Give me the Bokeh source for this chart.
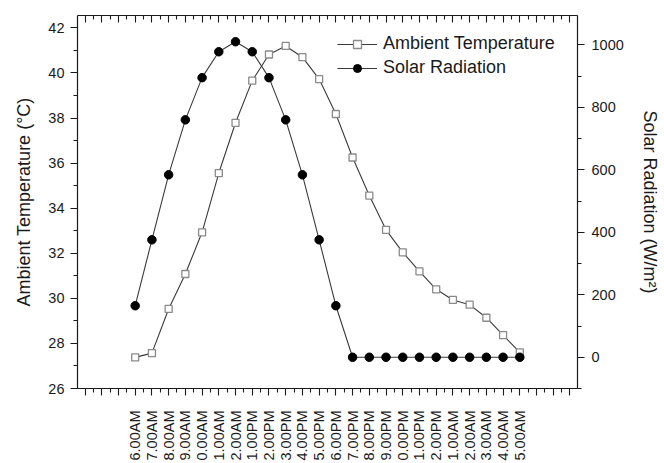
import math

from bokeh.plotting import figure
from bokeh.models import Range1d, LinearAxis, FixedTicker, Legend, LegendItem
from bokeh.embed import file_html
from bokeh.resources import INLINE

# Hourly readings over one day, starting at 6 AM
hour_labels = ["6.00AM", "7.00AM", "8.00AM", "9.00AM", "0.00AM", "1.00AM",
               "2.00AM", "1.00PM", "2.00PM", "3.00PM", "4.00PM", "5.00PM",
               "6.00PM", "7.00PM", "8.00PM", "9.00PM", "0.00PM", "1.00PM",
               "2.00PM", "1.00AM", "2.00AM", "3.00AM", "4.00AM", "5.00AM"]
ambient_temp = [27.38, 27.57, 29.53, 31.08, 32.93, 35.56, 37.79, 39.66,
                40.82, 41.20, 40.70, 39.73, 38.18, 36.25, 34.56, 33.04,
                32.04, 31.20, 30.40, 29.93, 29.72, 29.14, 28.37, 27.60]
solar_rad = [165, 376, 584, 760, 895, 978, 1010, 978, 895, 760, 584, 376,
             165, 0, 0, 0, 0, 0, 0, 0, 0, 0, 0, 0]
x = list(range(len(hour_labels)))

FONT = "Liberation Sans"
INK = "#1a1a1a"

p = figure(width=664, height=463, output_backend="svg", toolbar_location=None,
           x_range=Range1d(-3.45, 26.45), y_range=Range1d(26, 42.55),
           min_border_left=77, min_border_right=87,
           min_border_top=15, min_border_bottom=75)
p.extra_y_ranges = {"solar": Range1d(-100, 1094)}
p.xgrid.visible = False
p.ygrid.visible = False
p.outline_line_color = None

x_ticks = list(range(-3, 27))
x_minor = [i + 0.5 for i in range(-4, 27)]
overrides = {t: "" for t in x_ticks}
overrides.update({i: lab for i, lab in enumerate(hour_labels)})


def style_axis(ax):
    ax.axis_line_color = INK
    ax.axis_line_width = 1.2
    ax.major_tick_line_color = INK
    ax.minor_tick_line_color = INK
    ax.major_tick_line_width = 1.1
    ax.minor_tick_line_width = 1.1
    ax.major_label_text_font = FONT
    ax.major_label_text_font_size = "14.5px"
    ax.major_label_text_color = INK
    ax.axis_label_text_font = FONT
    ax.axis_label_text_font_size = "18px"
    ax.axis_label_text_font_style = "normal"
    ax.axis_label_text_color = INK


# bottom hour axis
xa = p.xaxis[0]
xa.ticker = FixedTicker(ticks=x_ticks, minor_ticks=x_minor)
xa.major_label_overrides = overrides
xa.major_label_orientation = math.pi / 2
xa.major_tick_out = 7
xa.major_tick_in = 0
xa.minor_tick_out = 4
xa.minor_tick_in = 0
xa.major_label_standoff = 15
style_axis(xa)

# left temperature axis
ya = p.yaxis[0]
ya.ticker = FixedTicker(ticks=list(range(26, 43, 2)), minor_ticks=list(range(26, 43)))
ya.axis_label = "Ambient Temperature (°C)"
ya.major_tick_out = 7
ya.major_tick_in = 0
ya.minor_tick_out = 4
ya.minor_tick_in = 0
ya.major_label_standoff = 6
ya.axis_label_standoff = 11
style_axis(ya)

# top frame axis with inward ticks
top = LinearAxis(ticker=FixedTicker(ticks=x_ticks, minor_ticks=x_minor),
                 major_label_overrides={t: "" for t in x_ticks})
top.major_tick_in = 7
top.major_tick_out = 0
top.minor_tick_in = 4
top.minor_tick_out = 0
top.major_label_standoff = 0
style_axis(top)
p.add_layout(top, "above")

# right solar radiation axis
ra = LinearAxis(y_range_name="solar",
                ticker=FixedTicker(ticks=list(range(0, 1001, 200)),
                                   minor_ticks=list(range(-100, 1101, 100))),
                axis_label="Solar Radiation (W/m²)")
ra.major_tick_out = 7
ra.major_tick_in = 0
ra.minor_tick_out = 4
ra.minor_tick_in = 0
ra.major_label_standoff = 7
ra.axis_label_standoff = 13
style_axis(ra)
p.add_layout(ra, "right")

# ambient temperature series
t_line = p.line(x, ambient_temp, line_color="#3a3a3a", line_width=1.1)
t_mark = p.scatter(x, ambient_temp, marker="square", size=7,
                   fill_color="white", line_color="#8a8a8a", line_width=1.3)

# solar radiation series
s_line = p.line(x, solar_rad, y_range_name="solar", line_color="#3a3a3a", line_width=1.1)
s_mark = p.scatter(x, solar_rad, y_range_name="solar", marker="circle", size=8.5,
                   fill_color="black", line_color="black")

legend = Legend(items=[
    LegendItem(label="Ambient Temperature", renderers=[t_line, t_mark]),
    LegendItem(label="Solar Radiation", renderers=[s_line, s_mark]),
], location=(260, 310))
legend.border_line_color = None
legend.background_fill_alpha = 0
legend.label_text_font = FONT
legend.label_text_font_size = "18px"
legend.label_text_color = INK
legend.glyph_width = 40
legend.glyph_height = 20
legend.label_height = 20
legend.spacing = 3
legend.padding = 0
legend.margin = 0
legend.label_standoff = 6
p.add_layout(legend, "center")

with open("out.html", "w") as f:
    f.write(file_html(p, INLINE))
